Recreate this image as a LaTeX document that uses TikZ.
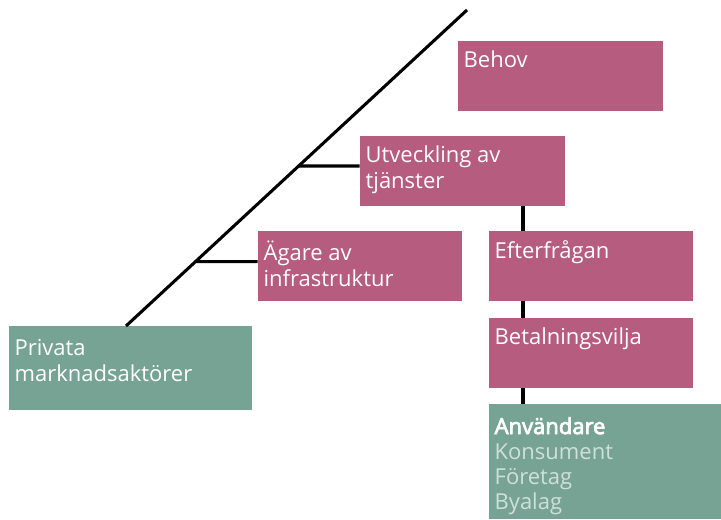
\documentclass[tikz,border=0pt]{standalone}
\usepackage{fontspec}
\setmainfont{Open Sans}
\definecolor{pinkbox}{HTML}{B65C7E}
\definecolor{greenbox}{HTML}{77A395}
\definecolor{lighttxt}{HTML}{CFE0DA}
\newcommand\tstr{\rule{0pt}{10pt}}
\begin{document}
\begin{tikzpicture}[x=0.75pt,y=-0.75pt,
  box/.style={draw=none,inner sep=0pt,minimum width=#1*0.75pt},
  pbox/.style={box=#1,fill=pinkbox,minimum height=52.5pt},
  lbl/.style={anchor=north west,inner sep=0pt,align=left,text=white,
    font=\fontsize{16.5}{19.5}\selectfont},
  conn/.style={line width=2.3pt,black}]
\useasboundingbox (0,0) rectangle (721,519);
% boxes
\node[pbox=205] (behov) at (560.5,76) {};
\node[pbox=205] (utv) at (462.5,171) {};
\node[pbox=204] (agare) at (360,266) {};
\node[pbox=204] (efter) at (591,266) {};
\node[pbox=204] (betal) at (591,353) {};
\node[box=243,fill=greenbox,minimum height=63pt] (priv) at (130.5,368) {};
\node[box=232,fill=greenbox,minimum height=86.25pt] (anv) at (605,461.5) {};
% labels
\node[lbl] (tbehov) at ([shift={(4.25pt,-7.25pt)}]behov.north west) {\tstr Behov};
\node[lbl] (tutv) at ([shift={(4.25pt,-7.25pt)}]utv.north west) {\tstr Utveckling av\\tjänster};
\node[lbl] (tagare) at ([shift={(4.25pt,-7.25pt)}]agare.north west) {\tstr Ägare av\\infrastruktur};
\node[lbl] (tefter) at ([shift={(4.25pt,-7.25pt)}]efter.north west) {\tstr Efterfrågan};
\node[lbl] (tbetal) at ([shift={(4.25pt,-7.25pt)}]betal.north west) {\tstr Betalningsvilja};
\node[lbl] (tpriv) at ([shift={(4.25pt,-10pt)}]priv.north west) {\tstr Privata\\marknadsaktörer};
\node[lbl,font=\fontsize{16.5}{18.75}\selectfont] (tanv) at ([shift={(4.25pt,-10pt)}]anv.north west)
  {\tstr{\addfontfeature{FakeBold=3.5}Användare}\\\textcolor{lighttxt}{Konsument}\\\textcolor{lighttxt}{Företag}\\\textcolor{lighttxt}{Byalag}};
% diagonal
\coordinate (top) at (467,10);
\coordinate (bot) at (126,326);
\coordinate (spine) at (523,0);
\draw[conn] (bot) -- (top);
\draw[conn] ([yshift=3.75pt]utv.west) -- (intersection of top--bot and {[yshift=3.75pt]utv.west}--{[yshift=3.75pt]utv.east});
\draw[conn] ([yshift=3.25pt]agare.west) -- (intersection of top--bot and {[yshift=3.25pt]agare.west}--{[yshift=3.25pt]agare.east});
\draw[conn] (utv.south -| spine) -- (efter.north -| spine);
\draw[conn] (efter.south -| spine) -- (betal.north -| spine);
\draw[conn] (betal.south -| spine) -- (anv.north -| spine);
\end{tikzpicture}
\end{document}
